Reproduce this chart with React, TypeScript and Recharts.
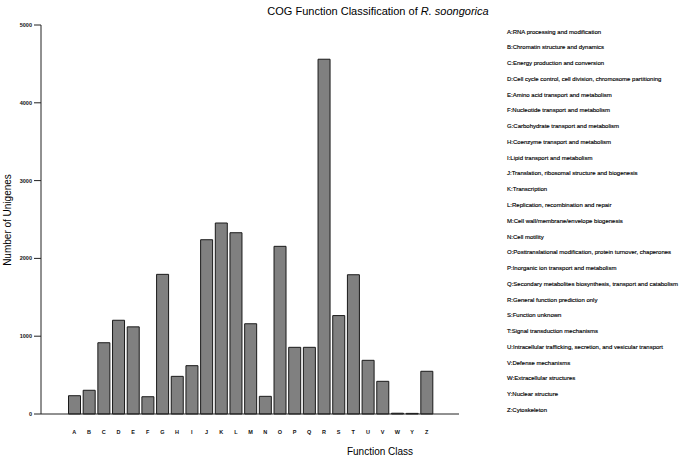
import { Bar, BarChart, XAxis, YAxis } from 'recharts';

const classes = ['A', 'B', 'C', 'D', 'E', 'F', 'G', 'H', 'I', 'J', 'K', 'L', 'M', 'N', 'O', 'P', 'Q', 'R', 'S', 'T', 'U', 'V', 'W', 'Y', 'Z'];
const counts = [235, 305, 916, 1205, 1120, 222, 1795, 484, 621, 2240, 2455, 2330, 1160, 227, 2155, 857, 857, 4560, 1265, 1790, 690, 420, 10, 8, 549];
const yTicks = [0, 1000, 2000, 3000, 4000, 5000];
const descriptions = [
  'RNA processing and modification',
  'Chromatin structure and dynamics',
  'Energy production and conversion',
  'Cell cycle control, cell division, chromosome partitioning',
  'Amino acid transport and metabolism',
  'Nucleotide transport and metabolism',
  'Carbohydrate transport and metabolism',
  'Coenzyme transport and metabolism',
  'Lipid transport and metabolism',
  'Translation, ribosomal structure and biogenesis',
  'Transcription',
  'Replication, recombination and repair',
  'Cell wall/membrane/envelope biogenesis',
  'Cell motility',
  'Posttranslational modification, protein turnover, chaperones',
  'Inorganic ion transport and metabolism',
  'Secondary metabolites biosynthesis, transport and catabolism',
  'General function prediction only',
  'Function unknown',
  'Signal transduction mechanisms',
  'Intracellular trafficking, secretion, and vesicular transport',
  'Defense mechanisms',
  'Extracellular structures',
  'Nuclear structure',
  'Cytoskeleton',
];

const data = classes.map((c, i) => ({ cls: c, count: counts[i] }));

const font = '"Liberation Sans", Arial, sans-serif';
const tiny = { fontSize: 5.5, fontFamily: font, fill: '#111', fontWeight: 700 };

export default function App() {
  return (
    <div style={{ position: 'fixed', left: 0, top: 0, width: 680, height: 456, background: '#fff', fontFamily: font, overflow: 'hidden' }}>
      <BarChart
        width={680}
        height={456}
        data={data}
        margin={{ top: 25, right: 221, bottom: 12, left: 11 }}
        barCategoryGap={1.5}
      >
        <XAxis
          dataKey="cls"
          tickLine={false}
          tickSize={0}
          tickMargin={16}
          tick={tiny}
          axisLine={{ stroke: '#222' }}
          height={30}
          padding={{ left: 26, right: 25 }}
          interval={0}
        />
        <XAxis xAxisId="top" orientation="top" dataKey="cls" tick={false} tickLine={false} height={0} axisLine={{ stroke: '#777' }} />
        <YAxis
          domain={[0, 5000]}
          ticks={yTicks}
          tick={tiny}
          tickSize={7}
          tickMargin={2}
          tickLine={{ stroke: '#222' }}
          axisLine={{ stroke: '#222' }}
          width={30}
        />
        <YAxis yAxisId="right" orientation="right" tick={false} tickLine={false} width={0} axisLine={{ stroke: '#777' }} />
        <Bar dataKey="count" fill="#808080" stroke="#1a1a1a" strokeWidth={1} isAnimationActive={false} />
      </BarChart>

      <div style={{ position: 'absolute', left: 0, width: 756, top: 5, textAlign: 'center', fontSize: 11, color: '#000' }}>
        COG Function Classification of <i>R. soongorica</i>
      </div>
      <div style={{ position: 'absolute', left: 300, width: 160, top: 446, textAlign: 'center', fontSize: 10 }}>Function Class</div>
      <div
        style={{
          position: 'absolute',
          left: 7,
          top: 220,
          fontSize: 10,
          whiteSpace: 'nowrap',
          transform: 'translate(-50%, -50%) rotate(-90deg)',
        }}
      >
        Number of Unigenes
      </div>
      {classes.map((c, i) => (
        <div
          key={c}
          style={{
            position: 'absolute',
            left: 507,
            top: 31.5 + i * 15.77 - 4,
            fontSize: 6,
            color: '#000',
            lineHeight: '8px',
            whiteSpace: 'nowrap',
            WebkitTextStroke: '0.15px #000',
          }}
        >
          {c}:{descriptions[i]}
        </div>
      ))}
    </div>
  );
}
